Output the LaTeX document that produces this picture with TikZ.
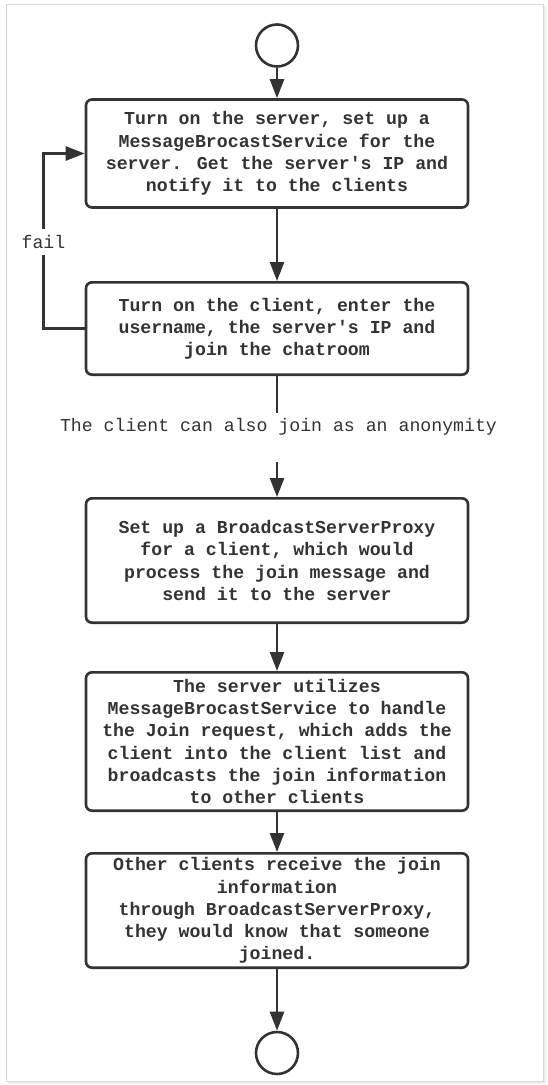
\documentclass[tikz,border=0pt]{standalone}
\usepackage{fontspec}
\newfontfamily\cour{Liberation Mono}
\usetikzlibrary{arrows.meta}
\definecolor{ink}{HTML}{333333}
\definecolor{framec}{HTML}{D6D6D6}
\begin{document}
\begin{tikzpicture}[x=1pt,y=-1pt,
  stepbox/.style={draw=ink, line width=2.6pt, rounded corners=6pt, minimum width=382pt, inner sep=0pt, align=center, text=ink, font={\cour\bfseries\fontsize{18.2}{22.2}\selectfont}},
  endpt/.style={circle, draw=ink, line width=2.6pt, minimum size=42pt, inner sep=0pt},
  lbl/.style={text=ink, inner sep=0pt, font={\cour\fontsize{18.2}{22.2}\selectfont}},
  conn/.style={draw=ink, line width=2.6pt},
  arr/.style={conn, -{Triangle[length=19pt,width=14pt]}}]
\useasboundingbox (0,0) rectangle (547,1085);
\fill[white] (0,0) rectangle (547,1085);
\draw[black!6, line width=2pt] (8,1082.5) -- (544.5,1082.5) -- (544.5,6);
\draw[framec, line width=1pt] (6,4) rectangle (543,1081);

\node[endpt] (start) at (277,45.5) {};
\node[stepbox, minimum height=108pt] (b1) at (277,153.5) {Turn on the server, set up a\\MessageBrocastService for the\\server. Get the server\textquotesingle{}s IP and\\notify it to the clients};
\node[stepbox, minimum height=92.4pt] (b2) at (277,328.5) {Turn on the client, enter the\\username, the server\textquotesingle{}s IP and\\join the chatroom};
\coordinate (c1) at (277,413);
\node[lbl] (lab) at (278.5,427) {The client can also join as an anonymity};
\coordinate (c2) at (277,462);
\node[stepbox, minimum height=124.4pt] (b3) at (277,560.5) {Set up a BroadcastServerProxy\\for a client, which would\\process the join message and\\send it to the server};
\node[stepbox, minimum height=138.4pt] (b4) at (277,741.5) {The server utilizes\\MessageBrocastService to handle\\the Join request, which adds the\\client into the client list and\\broadcasts the join information\\to other clients};
\node[stepbox, minimum height=114.4pt] (b5) at (277,910.5) {Other clients receive the join\\information\\through BroadcastServerProxy,\\they would know that someone\\joined.};
\node[endpt] (stop) at (277,1053) {};
\node[lbl, minimum height=26pt] (fail) at (43.5,242) {fail};

\draw[arr] (start.south) -- (b1.north);
\draw[arr] (b1.south) -- (b2.north);
\draw[conn] (b2.south) -- (c1);
\draw[arr] (c2) -- (b3.north);
\draw[arr] (b3.south) -- (b4.north);
\draw[arr] (b4.south) -- (b5.north);
\draw[arr] (b5.south) -- (stop.north);
\draw[conn] (b2.west) -| (fail.south);
\draw[arr] (fail.north) |- (b1.west);
\end{tikzpicture}
\end{document}
